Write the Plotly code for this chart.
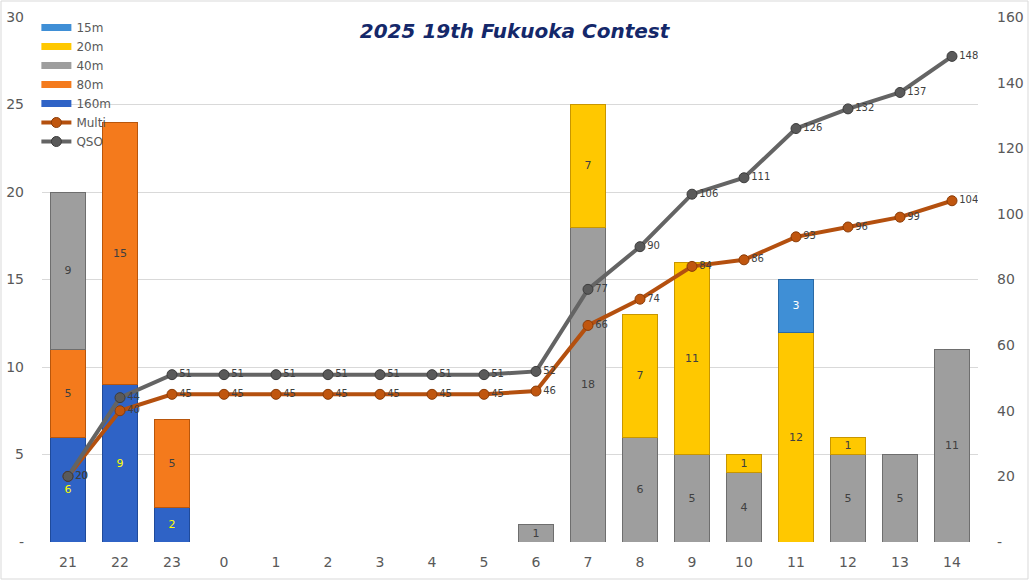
import plotly.graph_objects as go

hours = ["21", "22", "23", "0", "1", "2", "3", "4", "5", "6", "7", "8", "9", "10", "11", "12", "13", "14"]
band_160m = [6, 9, 2, None, None, None, None, None, None, None, None, None, None, None, None, None, None, None]
band_80m = [5, 15, 5, None, None, None, None, None, None, None, None, None, None, None, None, None, None, None]
band_40m = [9, None, None, None, None, None, None, None, None, 1, 18, 6, 5, 4, None, 5, 5, 11]
band_20m = [None, None, None, None, None, None, None, None, None, None, 7, 7, 11, 1, 12, 1, None, None]
band_15m = [None, None, None, None, None, None, None, None, None, None, None, None, None, None, 3, None, None, None]
multi = [20, 40, 45, 45, 45, 45, 45, 45, 45, 46, 66, 74, 84, 86, 93, 96, 99, 104]
qso = [20, 44, 51, 51, 51, 51, 51, 51, 51, 52, 77, 90, 106, 111, 126, 132, 137, 148]

left_ticks = [0, 5, 10, 15, 20, 25, 30]
right_ticks = [0, 20, 40, 60, 80, 100, 120, 140, 160]

FONT = "DejaVu Sans"
fig = go.Figure()

bars = [
    ("160m", band_160m, "#2f63c6", "#1f4a9a", "#ffff00", 5),
    ("80m", band_80m, "#f47a1c", "#b8560c", "#404040", 4),
    ("40m", band_40m, "#9e9e9e", "#6e6e6e", "#404040", 3),
    ("20m", band_20m, "#ffc800", "#c89600", "#404040", 2),
    ("15m", band_15m, "#3f8fd6", "#2a6aa6", "#ffffff", 1),
]
for name, vals, col, lcol, tcol, rank in bars:
    fig.add_trace(go.Bar(
        x=hours, y=vals, name=name, legendgroup=name, showlegend=False,
        marker=dict(color=col, line=dict(color=lcol, width=1)),
        text=[str(v) if v else "" for v in vals],
        textposition="inside", insidetextanchor="middle", textangle=0,
        constraintext="none",
        textfont=dict(family=FONT, size=11, color=tcol),
        width=0.67, hoverinfo="skip",
    ))
    # legend key drawn as a wide bar-like swatch
    fig.add_trace(go.Scatter(
        x=[None], y=[None], name=name, legendgroup=name, mode="lines",
        line=dict(color=col, width=7), legendrank=rank, hoverinfo="skip",
    ))

fig.add_trace(go.Scatter(
    x=hours, y=multi, name="Multi", yaxis="y2", mode="lines+markers+text",
    line=dict(color="#b4500f", width=4),
    marker=dict(size=10, color="#c0560f", line=dict(color="#8a3c08", width=1)),
    text=[str(v) for v in multi], textposition="middle right",
    textfont=dict(family=FONT, size=10, color="#404040"),
    legendrank=6, hoverinfo="skip",
))
fig.add_trace(go.Scatter(
    x=hours, y=qso, name="QSO", yaxis="y2", mode="lines+markers+text",
    line=dict(color="#646464", width=4),
    marker=dict(size=10, color="#5a5a5a", line=dict(color="#3c3c3c", width=1)),
    text=[str(v) for v in qso], textposition="middle right",
    textfont=dict(family=FONT, size=10, color="#404040"),
    legendrank=7, hoverinfo="skip",
))

fig.update_layout(
    width=1029, height=580,
    margin=dict(l=42, r=51, t=17, b=38, autoexpand=False),
    paper_bgcolor="white", plot_bgcolor="white",
    barmode="stack",
    font=dict(family=FONT, color="#595959"),
    title=dict(text="2025 19th Fukuoka Contest", x=0.5, xanchor="center",
               y=1 - 31 / 580, yanchor="middle",
               font=dict(family=FONT, size=20, color="#14286a", weight="bold", style="italic")),
    xaxis=dict(type="category", range=[-0.5, 17.5], showgrid=False, showline=False, zeroline=False,
               automargin=False, tickfont=dict(size=14, color="#595959"), ticks="", ticklabelstandoff=10),
    yaxis=dict(range=[0, 30], tickvals=left_ticks, automargin=False,
               ticktext=["-" if v == 0 else str(v) for v in left_ticks],
               showgrid=True, gridcolor="#d9d9d9", gridwidth=1, zeroline=False,
               tickfont=dict(size=14, color="#595959"), ticklabelstandoff=17),
    yaxis2=dict(range=[0, 160], overlaying="y", side="right", tickvals=right_ticks, automargin=False,
                ticktext=["-" if v == 0 else str(v) for v in right_ticks],
                showgrid=False, zeroline=False,
                tickfont=dict(size=14, color="#595959"), ticklabelstandoff=18),
    legend=dict(x=-0.006, y=1 + 4 / 525, xanchor="left", yanchor="top", traceorder="normal",
                bgcolor="rgba(0,0,0,0)", font=dict(size=12, color="#595959"),
                tracegroupgap=0, itemwidth=30),
    showlegend=True,
    shapes=[dict(type="rect", xref="paper", yref="paper",
                 x0=-41 / 936, x1=1 + 50 / 936, y0=-37 / 525, y1=1 + 16 / 525,
                 line=dict(color="#d9d9d9", width=1), layer="below")],
)

fig.write_html("out.html", config={"displayModeBar": False},
               post_script="document.body.style.margin='0';")
